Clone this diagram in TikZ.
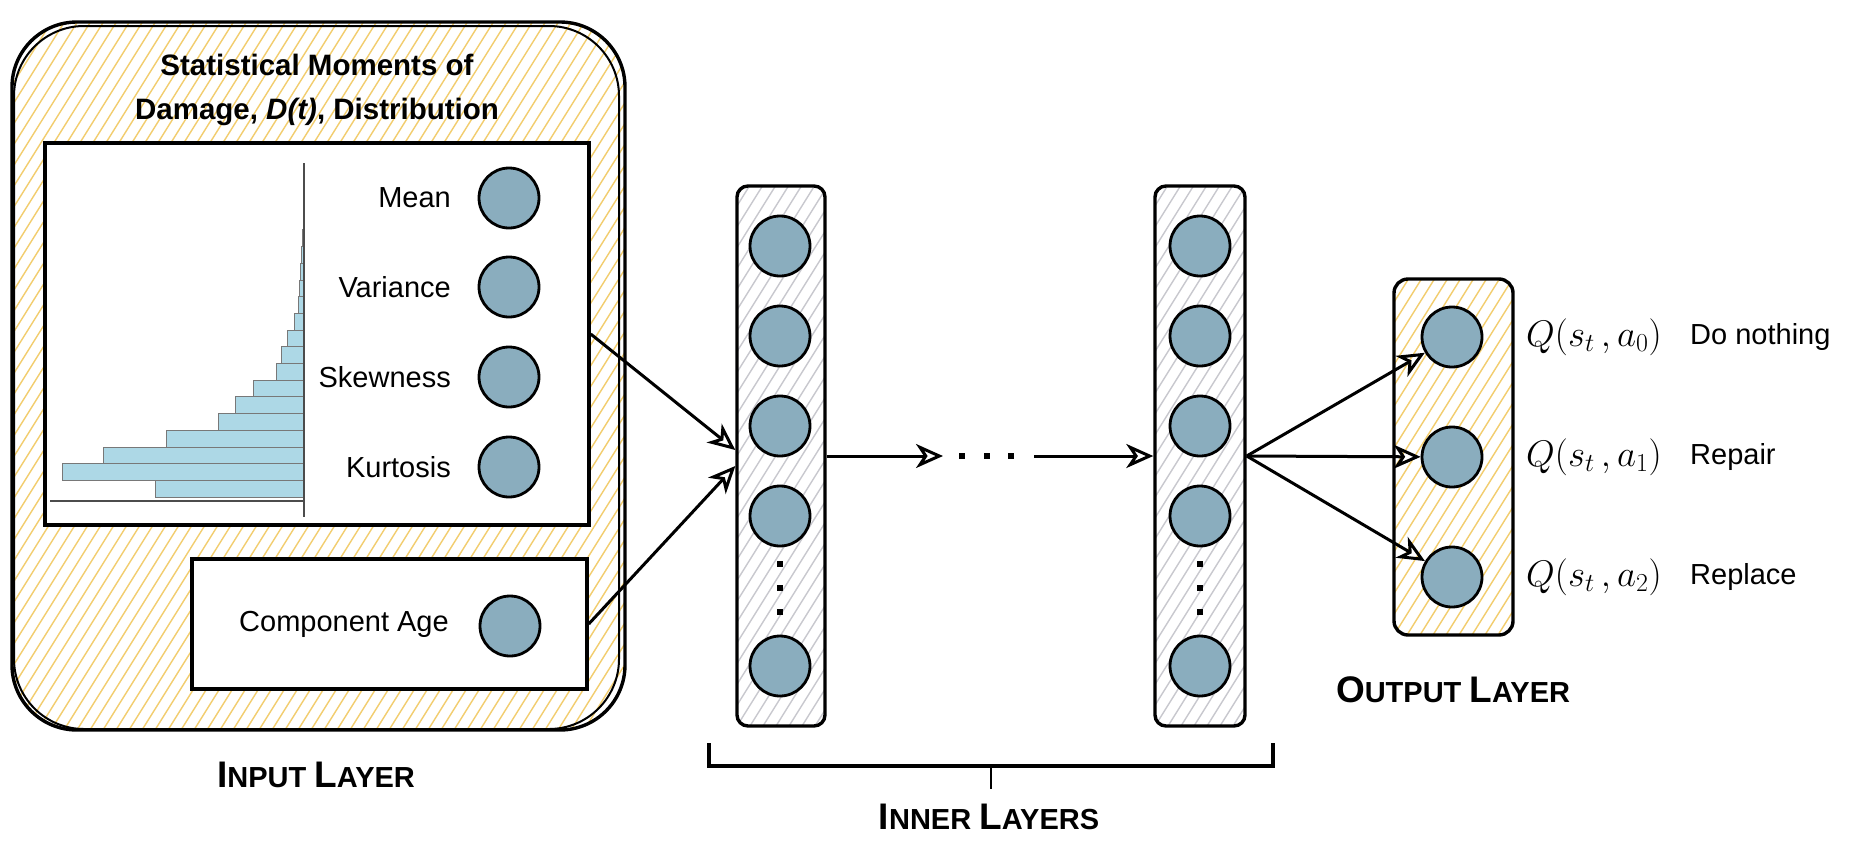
\RequirePackage{fix-cm}
\documentclass[tikz,border=0pt]{standalone}
\usepackage{fontspec}
\setmainfont{Liberation Sans}
\usetikzlibrary{arrows.meta,calc}
\definecolor{nodefill}{RGB}{138,173,190}
\definecolor{hatchyellow}{RGB}{242,205,110}
\definecolor{hatchgray}{RGB}{200,200,206}
\definecolor{barblue}{RGB}{173,216,230}
\definecolor{bargray}{RGB}{120,120,120}
\newcommand{\myfs}{\fontsize{29}{34}\selectfont}
\newcommand{\scbig}[1]{{\fontsize{37}{37}\selectfont #1}}
\tikzset{
  yhatch/.style={path picture={\foreach \k in {0,...,110}{\draw[hatchyellow,line width=1.4pt] ([xshift=\k*13pt-520pt]path picture bounding box.south west) -- ++(58:1500pt);}}},
  ghatch/.style={path picture={\foreach \k in {0,...,110}{\draw[hatchgray,line width=1.4pt] ([xshift=\k*13pt-520pt]path picture bounding box.south west) -- ++(58:1500pt);}}},
  neuron/.style={circle,draw,line width=2.8pt,fill=nodefill,minimum size=60pt,inner sep=0pt},
  panel/.style={rectangle,draw,line width=3.4pt,fill=white,inner sep=0pt},
  layerbox/.style={rectangle,draw,line width=3.4pt,fill=white,rounded corners=11pt,inner sep=0pt,ghatch},
  lbl/.style={font=\myfs,inner sep=0pt},
  qlbl/.style={font=\fontsize{37}{42}\selectfont,inner sep=0pt,anchor=west},
  sclbl/.style={font=\bfseries\fontsize{29}{31}\selectfont,inner sep=0pt},
  arr/.style={line width=3pt,-{Stealth[open,length=27pt,width=24pt,inset=8pt,line width=3pt]}},
  dotsq/.style={rectangle,fill=black,minimum size=6.5pt,inner sep=0pt},
  bar/.style={fill=barblue,draw=bargray,line width=0.8pt},
  axisline/.style={draw=black!70,line width=1.3pt},
  brace/.style={line width=3.2pt}
}
\begin{document}
\begin{tikzpicture}[x=1pt,y=-1pt]
\useasboundingbox (0,0) rectangle (1857,852);

% ---------- input layer ----------
\node[rectangle,draw,line width=3.4pt,fill=white,rounded corners=65pt,minimum width=613pt,minimum height=708pt,inner sep=0pt,yhatch] (inouter) at (318.5,376) {};
\draw[line width=2pt,rounded corners=70pt] (14,26) rectangle (619,729);
\node[font=\bfseries\fontsize{29.5}{44}\selectfont,align=center,inner sep=0pt] (title) at (317,90) {Statistical Moments of\\Damage, \textit{D(t)}, Distribution};

\node[panel,minimum width=544pt,minimum height=382pt] (inbox) at (317,334) {};
\node[panel,minimum width=395pt,minimum height=130pt] (agebox) at (389.5,624) {};

% histogram
\foreach \l [count=\i from 0] in {155,62,103,166,218,235,253,276,281,287,294,298,299,300,301,302,303}{
  \draw[bar] (\l,{497-\i*16.7}) rectangle (304,{497-(\i+1)*16.7});
}
\draw[axisline] (304,163) -- (304,517);
\draw[axisline] (50,501) -- (304,501);

\node[lbl,anchor=east] (lmean) at (451,198) {Mean};
\node[lbl,anchor=east] (lvar) at (451,287) {Variance};
\node[lbl,anchor=east] (lskew) at (451,377) {Skewness};
\node[lbl,anchor=east] (lkurt) at (451,467) {Kurtosis};
\node[neuron] (imean) at (509,198) {};
\node[neuron] (ivar) at (509,287) {};
\node[neuron] (iskew) at (509,377) {};
\node[neuron] (ikurt) at (509,467) {};
\node[lbl] (lage) at (344,624) {Component Age};
\node[neuron] (iage) at (510,626) {};

\node[sclbl] (inlabel) at (316,775) {\scbig{I}NPUT \scbig{L}AYER};

% ---------- inner layers ----------
\node[layerbox,minimum width=88pt,minimum height=540pt] (l1) at (781,456) {};
\node[layerbox,minimum width=90pt,minimum height=540pt] (l2) at (1200,456) {};
\foreach \y [count=\j] in {246,336,426,516,666}{
  \node[neuron] (la\j) at (780,\y) {};
  \node[neuron] (lb\j) at (1200,\y) {};
}
\foreach \y [count=\j] in {564,588,612}{
  \node[dotsq] (va\j) at (780,\y) {};
  \node[dotsq] (vb\j) at (1200,\y) {};
}
\foreach \x [count=\j] in {962,987,1011}{
  \node[dotsq] (hd\j) at (\x,456) {};
}
\coordinate (g1) at (943,456);
\coordinate (g2) at (1034,456);
\draw[arr] (l1.east) -- (g1);
\draw[arr] (g2) -- (l2.west);

\draw[arr] (inbox.east) -- ([yshift=6pt]l1.west);
\draw[arr] (agebox.east) -- ([yshift=-10pt]l1.west);

% brace
\coordinate (bl) at (709,743);
\coordinate (br) at (1273,743);
\coordinate (bm) at (991,766);
\draw[brace] (bl) -- (709,766) -- (1273,766) -- (br);
\draw[line width=2.6pt] (bm) -- (991,789);
\node[sclbl] (innerlabel) at (989,817) {\scbig{I}NNER \scbig{L}AYERS};

% ---------- output layer ----------
\node[rectangle,draw,line width=3.4pt,fill=white,rounded corners=14pt,minimum width=119pt,minimum height=356pt,inner sep=0pt,yhatch] (outbox) at (1453.5,457) {};
\node[neuron] (o1) at (1452,337) {};
\node[neuron] (o2) at (1452,457) {};
\node[neuron] (o3) at (1452,577) {};
\draw[arr] (l2.east) -- (o1);
\draw[arr] (l2.east) -- (o2);
\draw[arr] (l2.east) -- (o3);

\node[qlbl] (q0) at (1526,337) {$Q(s_t\,, a_0)$};
\node[qlbl] (q1) at (1526,457) {$Q(s_t\,, a_1)$};
\node[qlbl] (q2) at (1526,577) {$Q(s_t\,, a_2)$};
\node[lbl,anchor=west] (t0) at (1690,337) {Do nothing};
\node[lbl,anchor=west] (t1) at (1690,457) {Repair};
\node[lbl,anchor=west] (t2) at (1690,577) {Replace};

\node[sclbl] (outlabel) at (1453,690) {\scbig{O}UTPUT \scbig{L}AYER};
\end{tikzpicture}
\end{document}
